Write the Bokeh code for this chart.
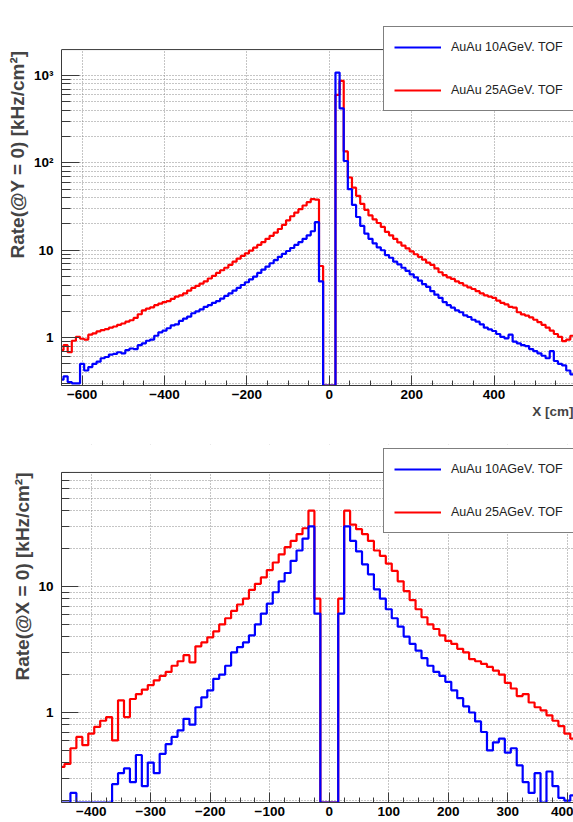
from bokeh.plotting import figure
from bokeh.layouts import column
from bokeh.models import (Range1d, FixedTicker, SingleIntervalTicker, Legend, LegendItem,
                          Title, Span, BoxAnnotation)
from bokeh.embed import file_html
from bokeh.resources import INLINE

FONT = "Liberation Sans"

# ---------------- data ----------------
# Top panel: rate at Y = 0 versus X, bins of 10 cm centred on -650 ... 650
top_x0 = -650
top_bin = 10
top_blue = [
    0.33, 0.36, 0.31, 0.30, 0.30, 0.50, 0.42, 0.46, 0.50, 0.53,   # -650 .. -560
    0.58, 0.60, 0.64, 0.65, 0.68, 0.66, 0.72, 0.75, 0.74, 0.82,   # -550 .. -460
    0.86, 0.92, 0.95, 1.05, 1.15, 1.20, 1.28, 1.38, 1.42, 1.55,   # -450 .. -360
    1.65, 1.74, 1.90, 2.00, 2.10, 2.25, 2.35, 2.50, 2.62, 2.80,   # -350 .. -260
    3.00, 3.20, 3.45, 3.70, 4.00, 4.30, 4.65, 5.00, 5.50, 6.00,   # -250 .. -160
    6.50, 7.10, 7.70, 8.40, 9.10, 9.80, 10.6, 11.5, 12.4, 13.5,   # -150 .. -60
    14.8, 16.5, 21.0, 4.4, 0, 0, 0, 1080, 420, 105,               # -50 .. 40
    50, 33, 24, 19, 15.5, 13.5, 12.0, 10.8, 10.0, 8.8,            # 50 .. 140
    8.2, 7.4, 6.9, 6.3, 5.8, 5.3, 4.9, 4.5, 4.1, 3.8,             # 150 .. 240
    3.4, 3.1, 2.85, 2.55, 2.35, 2.2, 2.05, 1.95, 1.8, 1.72,       # 250 .. 340
    1.6, 1.52, 1.42, 1.30, 1.24, 1.19, 1.10, 1.02, 0.98, 1.08,    # 350 .. 440
    0.90, 0.86, 0.82, 0.80, 0.74, 0.70, 0.66, 0.62, 0.58, 0.70,   # 450 .. 540
    0.54, 0.50, 0.48, 0.42, 0.38, 0.35, 0.33, 0.32, 0.31, 0.30,   # 550 .. 640
    0.30,                                                         # 650
]
top_red = [
    0.72, 0.82, 0.68, 0.92, 1.02, 0.97, 0.95, 1.08, 1.12, 1.18,   # -650 .. -560
    1.22, 1.25, 1.30, 1.34, 1.40, 1.45, 1.52, 1.58, 1.68, 1.85,   # -550 .. -460
    2.05, 2.15, 2.22, 2.35, 2.45, 2.55, 2.62, 2.78, 2.95, 3.05,   # -450 .. -360
    3.20, 3.45, 3.70, 3.90, 4.15, 4.40, 4.75, 5.10, 5.50, 5.90,   # -350 .. -260
    6.30, 6.80, 7.40, 8.00, 8.60, 9.20, 9.90, 10.7, 11.5, 12.4,   # -250 .. -160
    13.5, 14.6, 15.9, 17.5, 19.5, 22.0, 24.5, 27.0, 29.5, 32.5,   # -150 .. -60
    35.5, 38.5, 38.0, 6.6, 0, 0, 0, 600, 870, 135,                # -50 .. 40
    68, 52, 42, 34, 29, 25, 22.5, 20.5, 18.5, 16.2,               # 50 .. 140
    14.8, 13.5, 12.3, 11.3, 10.5, 9.7, 9.0, 8.4, 7.8, 7.2,        # 150 .. 240
    6.8, 6.2, 5.6, 5.2, 4.9, 4.7, 4.4, 4.2, 3.95, 3.75,           # 250 .. 340
    3.6, 3.4, 3.2, 3.05, 2.95, 2.85, 2.65, 2.5, 2.4, 2.25,        # 350 .. 440
    2.2, 1.95, 1.84, 1.78, 1.70, 1.60, 1.50, 1.40, 1.30, 1.20,    # 450 .. 540
    1.10, 1.02, 0.91, 0.95, 1.05, 1.00, 0.95, 0.90, 0.85, 0.80,   # 550 .. 640
    0.75,                                                         # 650
]

# Bottom panel: rate at X = 0 versus Y, bins of 10 cm centred on -450 ... 450
bot_x0 = -450
bot_bin = 10
bot_blue = [
    0, 0, 0.23, 0, 0, 0, 0, 0, 0, 0.27,                           # -450 .. -360
    0.33, 0.36, 0.28, 0.46, 0.26, 0.40, 0.33, 0.47, 0.56, 0.64,   # -350 .. -260
    0.72, 0.89, 0.80, 1.10, 1.32, 1.50, 1.85, 2.00, 2.35, 3.00,   # -250 .. -160
    3.30, 3.60, 4.10, 5.00, 6.10, 7.30, 9.00, 11.0, 12.8, 16.0,   # -150 .. -60
    19.3, 24.0, 30.0, 6.1, 0, 0, 0, 6.1, 30.0, 23.0,              # -50 .. 40
    19.0, 15.0, 12.5, 9.5, 8.0, 6.6, 5.6, 4.8, 4.0, 3.5,          # 50 .. 140
    3.1, 2.7, 2.35, 2.1, 1.95, 1.75, 1.50, 1.30, 1.12, 1.00,      # 150 .. 240
    0.85, 0.70, 0.50, 0.58, 0.62, 0.48, 0.52, 0.38, 0.28, 0.23,   # 250 .. 340
    0.33, 0, 0.34, 0.26, 0.21, 0.20, 0.22, 0.19, 0.20, 0.18,      # 350 .. 440
    0.19,                                                         # 450
]
bot_red = [
    0.37, 0.39, 0.52, 0.64, 0.55, 0.68, 0.77, 0.86, 0.92, 0.60,   # -450 .. -360
    1.25, 0.92, 1.28, 1.40, 1.52, 1.65, 1.80, 1.95, 2.10, 2.35,   # -350 .. -260
    2.55, 2.85, 2.50, 3.35, 3.60, 3.95, 4.40, 5.00, 5.60, 6.40,   # -250 .. -160
    7.20, 8.00, 9.40, 10.5, 11.8, 13.5, 15.5, 18.0, 20.5, 23.0,   # -150 .. -60
    26.0, 29.0, 40.0, 8.0, 0, 0, 0, 8.0, 40.0, 31.0,              # -50 .. 40
    28.5, 26.0, 23.0, 19.3, 17.5, 15.2, 13.3, 11.0, 9.2, 7.8,     # 50 .. 140
    6.6, 5.7, 5.0, 4.6, 4.1, 3.7, 3.5, 3.2, 3.0, 2.65,            # 150 .. 240
    2.55, 2.43, 2.30, 2.15, 2.0, 1.72, 1.55, 1.35, 1.40, 1.20,    # 250 .. 340
    1.10, 1.04, 0.95, 0.86, 0.78, 0.68, 0.62, 0.58, 0.55, 0.50,   # 350 .. 440
    0.45,                                                         # 450
]

series_labels = ["AuAu 10AGeV. TOF", "AuAu 25AGeV. TOF"]
y_titles = ["Rate(@Y = 0) [kHz/cm\u00b2]", "Rate(@X = 0) [kHz/cm\u00b2]"]
x_title = "X [cm]"
y_major = [0.1, 1, 10, 100, 1000]
y_minor = [m * 10.0 ** k for k in range(-1, 4) for m in range(2, 10)]
y_tick_labels = {0.1: "0.1", 1: "1", 10: "10", 100: "10\u00b2", 1000: "10\u00b3"}

BLUE = "#0000ff"
RED = "#ff0000"
AXIS = "#3a3a3a"
GRID = "#8a8a8a"


def make_panel(x0, bw, blue, red, xr, yr, frame_top_value, height, b_top, b_bottom,
               x_interval, ytick_in, legend_xy, y_title, title_offset, show_xtitle):
    p = figure(width=573, height=height, x_range=Range1d(*xr), y_range=Range1d(*yr),
               y_axis_type="log", output_backend="svg", toolbar_location=None,
               title=y_title, title_location="left",
               min_border_left=61, min_border_right=0, min_border_top=b_top,
               min_border_bottom=b_bottom, outline_line_color=None,
               background_fill_color="white", border_fill_color="white")

    # y-axis title (ROOT style: bold, right aligned at the top of the axis)
    p.title.text_font = FONT
    p.title.text_font_style = "bold"
    p.title.text_font_size = "19px"
    p.title.align = "right"
    p.title.vertical_align = "top"
    p.title.offset = title_offset
    p.title.standoff = 2

    # grid (dotted, ROOT style)
    p.xgrid.grid_line_color = GRID
    p.xgrid.grid_line_dash = "1 2"
    p.ygrid.grid_line_color = GRID
    p.ygrid.grid_line_dash = "1 2"
    p.ygrid.minor_grid_line_color = GRID
    p.ygrid.minor_grid_line_dash = "1 2"

    # blank area above the drawn frame (room for the legend box)
    p.add_layout(BoxAnnotation(bottom=frame_top_value, fill_color="white", fill_alpha=1.0,
                               line_color=None, level="underlay"))

    centers = [x0 + i * bw for i in range(len(blue))]
    ymin = yr[0]
    red_y = [max(v, ymin) for v in red]
    blue_y = [max(v, ymin) for v in blue]
    r_red = p.step(x=centers, y=red_y, mode="center", line_color=RED, line_width=2.2)
    r_blue = p.step(x=centers, y=blue_y, mode="center", line_color=BLUE, line_width=2.2)

    # frame top line
    p.add_layout(Span(location=frame_top_value, dimension="width",
                      line_color=AXIS, line_width=1))

    # axes (ticks only up to the drawn frame top)
    majors = [t for t in y_major if t <= frame_top_value]
    minors = [t for t in y_minor if t <= frame_top_value]
    p.xaxis[0].ticker = SingleIntervalTicker(interval=x_interval, num_minor_ticks=4)
    p.yaxis[0].ticker = FixedTicker(ticks=majors, minor_ticks=minors)
    p.yaxis[0].bounds = (ymin, frame_top_value)
    p.yaxis.major_label_overrides = y_tick_labels
    for ax in (p.xaxis[0], p.yaxis[0]):
        ax.axis_line_color = AXIS
        ax.major_tick_line_color = AXIS
        ax.minor_tick_line_color = AXIS
        ax.major_tick_out = 0
        ax.minor_tick_out = 0
        ax.major_label_text_font = FONT
        ax.major_label_text_font_style = "bold"
        ax.major_label_text_font_size = "13.5px"
        ax.major_label_text_color = "black"
    p.xaxis.major_tick_in = 10
    p.xaxis.minor_tick_in = 5
    p.xaxis.major_label_standoff = 4
    p.yaxis.major_tick_in = ytick_in
    p.yaxis.minor_tick_in = ytick_in // 2
    p.yaxis.major_label_standoff = 8

    if show_xtitle:
        p.add_layout(Title(text=x_title, align="right", text_font=FONT,
                           text_font_style="bold", text_font_size="13.5px",
                           standoff=0), "below")

    # legend
    legend = Legend(items=[LegendItem(label=series_labels[0], renderers=[r_blue]),
                           LegendItem(label=series_labels[1], renderers=[r_red])],
                    location=legend_xy, border_line_color="black", border_line_width=1,
                    background_fill_color="white", background_fill_alpha=1.0,
                    padding=10, spacing=23, glyph_width=47, glyph_height=20,
                    label_height=20, label_standoff=10, margin=0,
                    label_text_font=FONT, label_text_font_size="12.5px",
                    label_text_color="#222222")
    p.add_layout(legend)
    return p


p1 = make_panel(top_x0, top_bin, top_blue, top_red, (-650, 592.7), (0.283, 4260), 1980,
                440, 20, 55, 200, 18, (322, 274), y_titles[0], 30, True)
p2 = make_panel(bot_x0, bot_bin, bot_blue, bot_red, (-450, 410.4), (0.193, 134), 80.4,
                382, 4, 20, 100, 17, (322, 269), y_titles[1], 28, False)

layout = column(p1, p2)
open("out.html", "w").write(file_html(layout, INLINE))
